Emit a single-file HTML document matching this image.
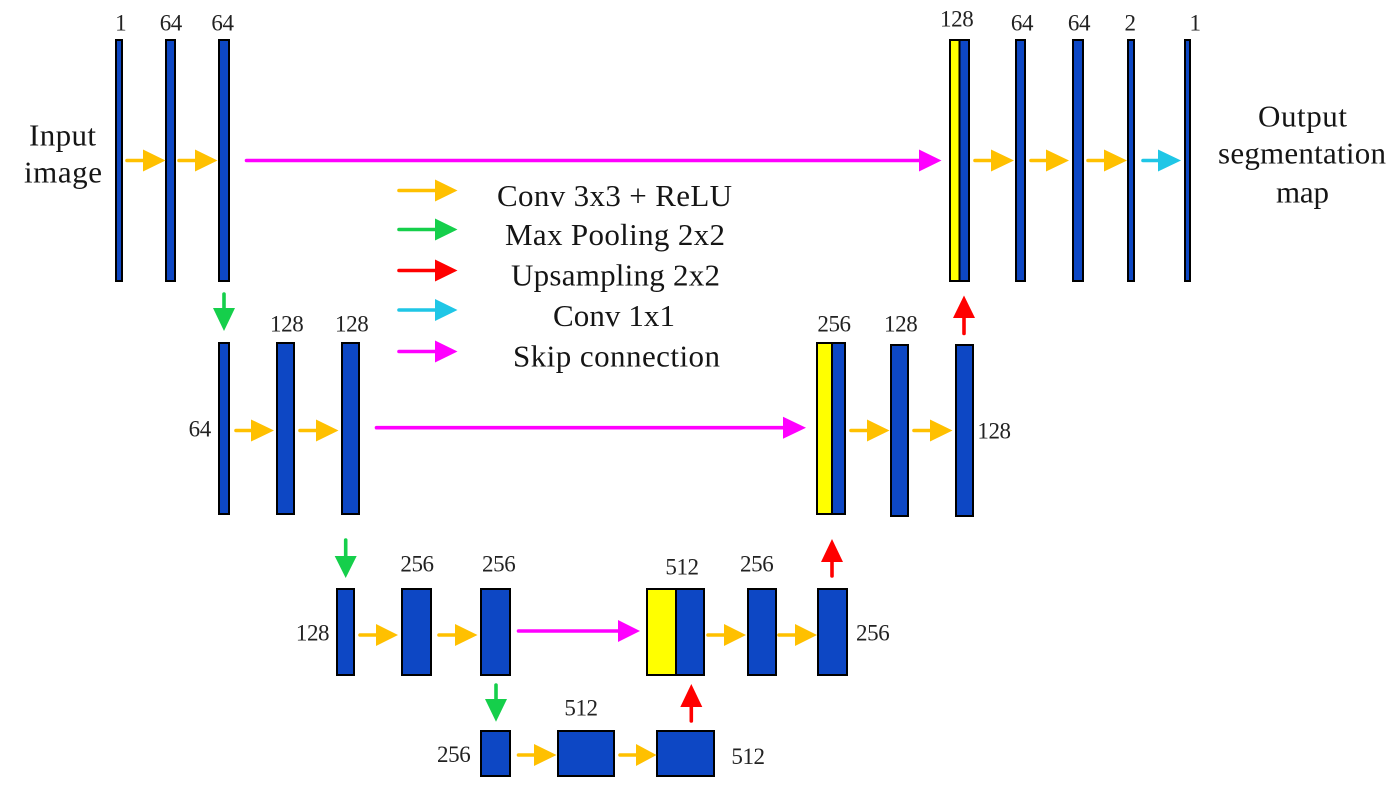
<!DOCTYPE html>
<html><head><meta charset="utf-8"><style>
html,body{margin:0;padding:0;background:#fff;width:1397px;height:787px;overflow:hidden}
svg{display:block}
text{font-family:"Liberation Serif",serif;fill:#151515}
.s{font-size:23px;text-anchor:middle;letter-spacing:-.4px;fill:#222}
.b{font-size:31px}
.l{font-size:31px}
.bar{fill:#0d47c4;stroke:#000;stroke-width:2}
.y{fill:#ffff00;stroke:#000;stroke-width:2}
.o{stroke:#ffc000;fill:#ffc000}.g{stroke:#15cf4b;fill:#15cf4b}.r{stroke:#ff0000;fill:#ff0000}.c{stroke:#1fc6e6;fill:#1fc6e6}.m{stroke:#ff00ff;fill:#ff00ff}
.a line{stroke-width:3.6;stroke-linecap:round}
.a polygon{stroke:none}
</style></head><body>
<svg width="1397" height="787" viewBox="0 0 1397 787" xmlns="http://www.w3.org/2000/svg">
<!-- row 1 -->
<rect class="bar" x="116" y="40" width="6" height="241"/>
<rect class="bar" x="166" y="40" width="9" height="241"/>
<rect class="bar" x="219" y="40" width="10" height="241"/>
<rect class="y" x="950" y="40" width="9.5" height="241"/>
<rect class="bar" x="959.5" y="40" width="9.5" height="241"/>
<rect class="bar" x="1016" y="40" width="9" height="241"/>
<rect class="bar" x="1073" y="40" width="10" height="241"/>
<rect class="bar" x="1128" y="40" width="6" height="241"/>
<rect class="bar" x="1185" y="40" width="5" height="241"/>
<!-- row 2 -->
<rect class="bar" x="219" y="343" width="10" height="171"/>
<rect class="bar" x="277" y="343" width="17" height="171"/>
<rect class="bar" x="342" y="343" width="17" height="171"/>
<rect class="y" x="817" y="343" width="15" height="171"/>
<rect class="bar" x="832" y="343" width="13" height="171"/>
<rect class="bar" x="891" y="345" width="17" height="171"/>
<rect class="bar" x="956" y="345" width="17" height="171"/>
<!-- row 3 -->
<rect class="bar" x="337" y="589" width="17" height="86"/>
<rect class="bar" x="402" y="589" width="29" height="86"/>
<rect class="bar" x="481" y="589" width="29" height="86"/>
<rect class="y" x="647" y="589" width="29" height="86"/>
<rect class="bar" x="676" y="589" width="28" height="86"/>
<rect class="bar" x="748" y="589" width="28" height="86"/>
<rect class="bar" x="818" y="589" width="29" height="86"/>
<!-- row 4 -->
<rect class="bar" x="481" y="731" width="29" height="45"/>
<rect class="bar" x="558" y="731" width="56" height="45"/>
<rect class="bar" x="657" y="731" width="57" height="45"/>

<!-- horizontal arrows: orange -->
<g class="a o">
<line x1="127" y1="160.5" x2="145" y2="160.5"/><polygon points="143,149.5 143,171.5 165.5,160.5"/>
<line x1="179" y1="160.5" x2="197" y2="160.5"/><polygon points="195,149.5 195,171.5 217.5,160.5"/>
<line x1="975" y1="160.5" x2="993" y2="160.5"/><polygon points="991,149.5 991,171.5 1014,160.5"/>
<line x1="1031" y1="160.5" x2="1048" y2="160.5"/><polygon points="1046,149.5 1046,171.5 1069,160.5"/>
<line x1="1088" y1="160.5" x2="1106" y2="160.5"/><polygon points="1104,149.5 1104,171.5 1127,160.5"/>
<line x1="236" y1="430.5" x2="253" y2="430.5"/><polygon points="251,419.5 251,441.5 274,430.5"/>
<line x1="300" y1="430.5" x2="318" y2="430.5"/><polygon points="316,419.5 316,441.5 338.5,430.5"/>
<line x1="851" y1="430.5" x2="869" y2="430.5"/><polygon points="867,419.5 867,441.5 889.5,430.5"/>
<line x1="914" y1="430.5" x2="932" y2="430.5"/><polygon points="930,419.5 930,441.5 952.5,430.5"/>
<line x1="360" y1="635" x2="378" y2="635"/><polygon points="376,624 376,646 398,635"/>
<line x1="439" y1="635" x2="457" y2="635"/><polygon points="455,624 455,646 477.5,635"/>
<line x1="708" y1="635" x2="726" y2="635"/><polygon points="724,624 724,646 746,635"/>
<line x1="779" y1="635" x2="797" y2="635"/><polygon points="795,624 795,646 817,635"/>
<line x1="518.5" y1="755" x2="536" y2="755"/><polygon points="534,744 534,766 556.5,755"/>
<line x1="620" y1="755" x2="638" y2="755"/><polygon points="636,744 636,766 656.5,755"/>
<line x1="399" y1="190.5" x2="437" y2="190.5"/><polygon points="435,179.5 435,201.5 457.5,190.5"/>
</g>
<!-- cyan -->
<g class="a c">
<line x1="1143" y1="160.5" x2="1160" y2="160.5"/><polygon points="1158,149.5 1158,171.5 1181,160.5"/>
<line x1="399" y1="310" x2="437" y2="310"/><polygon points="435,299 435,321 457.5,310"/>
</g>
<!-- magenta -->
<g class="a m">
<line x1="246.5" y1="160.5" x2="921" y2="160.5"/><polygon points="919,149.5 919,171.5 941.5,160.5"/>
<line x1="376.5" y1="427.7" x2="785" y2="427.7"/><polygon points="783,416.7 783,438.7 806,427.7"/>
<line x1="518.5" y1="631" x2="620" y2="631"/><polygon points="618,620 618,642 640,631"/>
<line x1="399" y1="351.5" x2="437" y2="351.5"/><polygon points="435,340.5 435,362.5 457.5,351.5"/>
</g>
<!-- green -->
<g class="a g">
<line x1="224" y1="294" x2="224" y2="310"/><polygon points="213,308 235,308 224,331"/>
<line x1="345.7" y1="540" x2="345.7" y2="558"/><polygon points="334.7,556 356.7,556 345.7,578"/>
<line x1="496" y1="685" x2="496" y2="701"/><polygon points="485,699 507,699 496,721.7"/>
<line x1="399" y1="229.5" x2="437" y2="229.5"/><polygon points="435,218.5 435,240.5 457.5,229.5"/>
</g>
<!-- red -->
<g class="a r">
<line x1="964" y1="333.5" x2="964" y2="316"/><polygon points="953,318 975,318 964,295.5"/>
<line x1="832" y1="576" x2="832" y2="560"/><polygon points="821,562 843,562 832,539"/>
<line x1="691.3" y1="721" x2="691.3" y2="705"/><polygon points="680.3,707 702.3,707 691.3,684"/>
<line x1="399" y1="270.5" x2="437" y2="270.5"/><polygon points="435,259.5 435,281.5 457.5,270.5"/>
</g>

<!-- labels -->
<text class="s" x="120.7" y="30.5">1</text>
<text class="s" x="170.8" y="30.5">64</text>
<text class="s" x="222.5" y="30.5">64</text>
<text class="s" x="956.7" y="26.5">128</text>
<text class="s" x="1022" y="30.5">64</text>
<text class="s" x="1079" y="30.5">64</text>
<text class="s" x="1130" y="30.5">2</text>
<text class="s" x="1195" y="30.5">1</text>
<text class="s" x="199.7" y="436.5">64</text>
<text class="s" x="286.7" y="331.5">128</text>
<text class="s" x="351.7" y="331.5">128</text>
<text class="s" x="834" y="331.5">256</text>
<text class="s" x="900.7" y="331.5">128</text>
<text class="s" x="994" y="438.5">128</text>
<text class="s" x="417" y="571.5">256</text>
<text class="s" x="498.7" y="571.5">256</text>
<text class="s" x="312.5" y="640.5">128</text>
<text class="s" x="682" y="574.5">512</text>
<text class="s" x="756.7" y="571.5">256</text>
<text class="s" x="872.7" y="640.5">256</text>
<text class="s" x="453.7" y="762">256</text>
<text class="s" x="581" y="715.5">512</text>
<text class="s" x="748" y="764">512</text>

<text class="b" x="29" y="145.5" textLength="67" lengthAdjust="spacing">Input</text>
<text class="b" x="24" y="182.5" textLength="78" lengthAdjust="spacing">image</text>
<text class="b" x="1258" y="126.5" textLength="89" lengthAdjust="spacing">Output</text>
<text class="b" x="1218" y="163.5" textLength="168" lengthAdjust="spacing">segmentation</text>
<text class="b" x="1276" y="202.5" textLength="53" lengthAdjust="spacing">map</text>

<text class="l" x="497" y="206" textLength="235" lengthAdjust="spacing">Conv 3x3 + ReLU</text>
<text class="l" x="505" y="245" textLength="220" lengthAdjust="spacing">Max Pooling 2x2</text>
<text class="l" x="511" y="285.5" textLength="209" lengthAdjust="spacing">Upsampling 2x2</text>
<text class="l" x="553" y="326" textLength="122" lengthAdjust="spacing">Conv 1x1</text>
<text class="l" x="513" y="366.5" textLength="207" lengthAdjust="spacing">Skip connection</text>
</svg>
</body></html>
